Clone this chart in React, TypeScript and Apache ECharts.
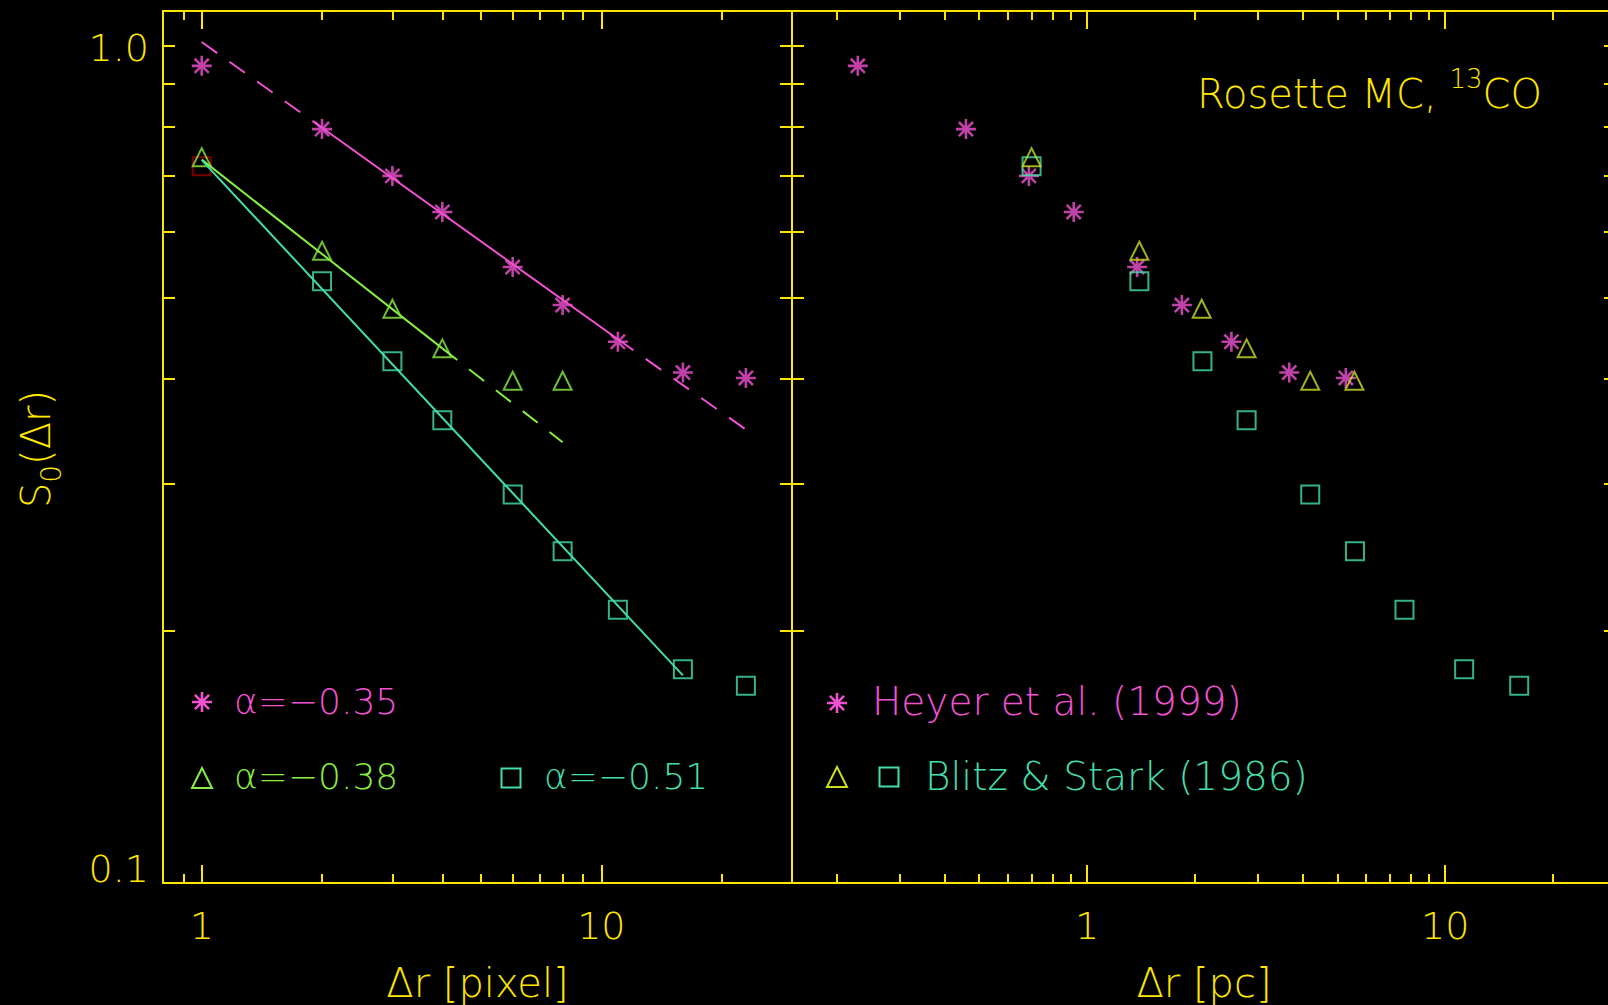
import React, { useEffect, useRef } from 'react';
import * as echarts from 'echarts';

// ---------- data ----------
const lagPx = [1, 2, 3, 4, 6, 8, 11, 16, 23];
const lagPxTri = [1, 2, 3, 4, 6, 8];
const heyerS = [0.946, 0.795, 0.699, 0.633, 0.544, 0.49, 0.443, 0.407, 0.401];
const blitzTriS = [0.736, 0.569, 0.485, 0.435, 0.398, 0.398];
const blitzSqS = [0.718, 0.523, 0.42, 0.357, 0.291, 0.249, 0.212, 0.18, 0.172];
const heyerPc = [0.229, 0.459, 0.688, 0.918, 1.38, 1.84, 2.53, 3.67, 5.28];
const blitzTriPc = [0.7, 1.4, 2.09, 2.79, 4.2, 5.58];
const blitzSqPc = [0.7, 1.4, 2.1, 2.79, 4.2, 5.6, 7.7, 11.3, 16.1];

// fitted power laws (end points)
const fitHeyerSolid = [[2, 0.798], [11, 0.446]];
const fitHeyerDashA = [[1, 1.01], [2, 0.798]];
const fitHeyerDashB = [[11, 0.446], [23, 0.348]];
const fitTriSolid = [[1, 0.731], [4, 0.435]];
const fitTriDash = [[4, 0.435], [8, 0.336]];
const fitSqSolid = [[1, 0.73], [16, 0.177]];

// axis ticks / labels
const majorX = [1, 10];
const minorXLeft = [0.9, 2, 3, 4, 5, 6, 7, 8, 9, 20];
const minorXRight = [0.2, 0.3, 0.4, 0.5, 0.6, 0.7, 0.8, 0.9, 2, 3, 4, 5, 6, 7, 8, 9, 20];
const yTicks = [0.2, 0.3, 0.4, 0.5, 0.6, 0.7, 0.8, 0.9, 1.0];
const yLabels = [0.1, 1];

const legendLeft = ['α=−0.35', 'α=−0.38', 'α=−0.51'];
const legendRight = ['Heyer et al. (1999)', 'Blitz & Stark (1986)'];

// ---------- styles ----------
const YEL = '#ffe600';
const MAG = '#f052d2';
const GRN = '#88ee44';
const YGR = '#ccdd22';
const TEAL = '#44ddaa';
const DRED = '#990000';
const FONT = '"DejaVu Sans", "Liberation Sans", sans-serif';
const FW = 200;

const ASTERISK_D = 'M0,-10L0,10M-10,0L10,0M-7.07,-7.07L7.07,7.07M7.07,-7.07L-7.07,7.07';
try {
  echarts.graphic.registerShape('asterisk', echarts.graphic.extendPath(ASTERISK_D, {}));
} catch (e) {
  // already registered
}
const ASTERISK_SYMBOL =
  'path://M10,0L10,20M0,10L20,10M2.93,2.93L17.07,17.07M17.07,2.93L2.93,17.07';

const zip = (xs: number[], ys: number[]) => xs.map((x, i) => [x, ys[i]]);

function xAxesFor(gridIndex: number, min: number, max: number, minor: number[], name: string) {
  const base = {
    type: 'log',
    logBase: 10,
    gridIndex,
    min,
    max,
    splitLine: { show: false },
    minorTick: { show: false },
    minorSplitLine: { show: false },
    silent: true,
  };
  const line = { show: true, onZero: false, lineStyle: { color: YEL, width: 2 } };
  const noLine = { show: false, onZero: false };
  const tickMajor = { show: true, inside: true, length: 18, customValues: majorX, lineStyle: { color: YEL, width: 2 } };
  const tickMinor = { show: true, inside: true, length: 9, customValues: minor, lineStyle: { color: YEL, width: 2 } };
  return [
    {
      ...base,
      position: 'bottom',
      axisLine: line,
      axisTick: tickMajor,
      axisLabel: {
        show: true,
        customValues: majorX,
        margin: 24,
        color: YEL,
        fontSize: 38,
        fontFamily: FONT,
        fontWeight: FW,
        formatter: (v: number) => String(Math.round(v)),
      },
      name,
      nameLocation: 'middle',
      nameGap: 80,
      nameMoveOverlap: false,
      nameTextStyle: { color: YEL, fontSize: 40, fontFamily: FONT, fontWeight: FW },
    },
    { ...base, position: 'bottom', axisLine: noLine, axisTick: tickMinor, axisLabel: { show: false } },
    { ...base, position: 'top', axisLine: line, axisTick: tickMajor, axisLabel: { show: false } },
    { ...base, position: 'top', axisLine: noLine, axisTick: tickMinor, axisLabel: { show: false } },
  ];
}

function yAxesFor(gridIndex: number, withLabels: boolean) {
  const base = {
    type: 'log',
    logBase: 10,
    gridIndex,
    min: 0.1,
    max: 1.1,
    splitLine: { show: false },
    minorTick: { show: false },
    minorSplitLine: { show: false },
    silent: true,
    axisLine: { show: true, onZero: false, lineStyle: { color: YEL, width: 2 } },
    axisTick: { show: true, inside: true, length: 12, customValues: yTicks, lineStyle: { color: YEL, width: 2 } },
  };
  return [
    {
      ...base,
      position: 'left',
      axisLabel: withLabels
        ? {
            show: true,
            customValues: yLabels,
            margin: 14,
            formatter: (v: number) => (v < 0.5 ? '{lo|' + v.toFixed(1) + '}' : '{hi|' + v.toFixed(1) + '}'),
            rich: {
              lo: { color: YEL, fontSize: 38, fontFamily: FONT, fontWeight: FW, padding: [0, 0, 28, 0] },
              hi: { color: YEL, fontSize: 38, fontFamily: FONT, fontWeight: FW, padding: [4, 0, 0, 0] },
            },
          }
        : { show: false },
    },
    { ...base, position: 'right', axisLabel: { show: false } },
  ];
}

function lineSeries(name: string, data: number[][], color: string, dashed: boolean, xi: number, yi: number) {
  return {
    type: 'line',
    name,
    data,
    xAxisIndex: xi,
    yAxisIndex: yi,
    symbol: 'none',
    showSymbol: false,
    silent: true,
    z: 3,
    lineStyle: { color, width: 2, type: dashed ? [19, 15] : 'solid' },
  };
}

function scatterSeries(
  name: string,
  data: number[][],
  symbol: string,
  color: string,
  xi: number,
  yi: number,
  size: number,
  bw = 2
) {
  return {
    type: 'scatter',
    name,
    data,
    xAxisIndex: xi,
    yAxisIndex: yi,
    symbol,
    symbolSize: size,
    silent: true,
    z: 2,
    itemStyle: { color: 'transparent', borderColor: color, borderWidth: bw },
  };
}

function legendText(text: string, x: number, y: number, color: string, size = 36) {
  return {
    type: 'text',
    x,
    y,
    silent: true,
    style: {
      text,
      fill: color,
      fontSize: size,
      fontFamily: FONT,
      fontWeight: FW,
      align: 'left',
      verticalAlign: 'middle',
      textAlign: 'left',
      textVerticalAlign: 'middle',
    },
  };
}

const strokeStyle = (c: string, w = 2) => ({ stroke: c, fill: 'none', lineWidth: w });

export default function App() {
  const ref = useRef<HTMLDivElement>(null);

  useEffect(() => {
    if (!ref.current) return;
    const chart = echarts.init(ref.current, undefined, { renderer: 'svg' });

    const option = {
      animation: false,
      backgroundColor: '#000',
      grid: [
        { left: 163, top: 11, width: 629, height: 872, outerBoundsMode: 'none', containLabel: false },
        { left: 792, top: 11, width: 824, height: 872, outerBoundsMode: 'none', containLabel: false },
      ],
      xAxis: [
        ...xAxesFor(0, 0.8, 30, minorXLeft, 'Δr [pixel]'),
        ...xAxesFor(1, 0.15, 30, minorXRight, 'Δr [pc]'),
      ],
      yAxis: [...yAxesFor(0, true), ...yAxesFor(1, false)],
      series: [
        // left panel: fits
        lineSeries('fit −0.35', fitHeyerSolid, MAG, false, 0, 0),
        lineSeries('fit −0.35 ext a', fitHeyerDashA, MAG, true, 0, 0),
        lineSeries('fit −0.35 ext b', fitHeyerDashB, MAG, true, 0, 0),
        lineSeries('fit −0.38', fitTriSolid, GRN, false, 0, 0),
        lineSeries('fit −0.38 ext', fitTriDash, GRN, true, 0, 0),
        lineSeries('fit −0.51', fitSqSolid, TEAL, false, 0, 0),
        // left panel: data
        scatterSeries('Heyer (pixel)', zip(lagPx, heyerS), ASTERISK_SYMBOL, MAG, 0, 0, 20, 2.6),
        scatterSeries('Blitz sq lag 1 (pixel)', zip(lagPx, blitzSqS).slice(0, 1), 'rect', DRED, 0, 0, 18),
        scatterSeries('Blitz tri (pixel)', zip(lagPxTri, blitzTriS), 'triangle', GRN, 0, 0, 18),
        scatterSeries('Blitz sq (pixel)', zip(lagPx, blitzSqS).slice(1), 'rect', TEAL, 0, 0, 18),
        // right panel: data
        scatterSeries('Heyer (pc)', zip(heyerPc, heyerS), ASTERISK_SYMBOL, MAG, 4, 2, 20, 2.6),
        scatterSeries('Blitz sq (pc)', zip(blitzSqPc, blitzSqS), 'rect', TEAL, 4, 2, 18),
        scatterSeries('Blitz tri (pc)', zip(blitzTriPc, blitzTriS), 'triangle', YGR, 4, 2, 18),
      ],
      graphic: [
        // y-axis title
        {
          type: 'text',
          x: 36,
          y: 449,
          rotation: Math.PI / 2,
          silent: true,
          style: {
            text: '{a|S}{b|0}{a|(Δr)}',
            rich: {
              a: { fontSize: 40, fontFamily: FONT, fontWeight: FW, fill: YEL },
              b: { fontSize: 28, fontFamily: FONT, fontWeight: FW, fill: YEL, padding: [31, 0, 0, 0] },
            },
            align: 'center',
            verticalAlign: 'middle',
            textAlign: 'center',
            textVerticalAlign: 'middle',
          },
        },
        // right panel title
        {
          type: 'text',
          x: 1197,
          y: 94,
          silent: true,
          style: {
            text: '{m|Rosette MC, }{s|13}{m|CO}',
            rich: {
              m: { fontSize: 40, fontFamily: FONT, fontWeight: FW, fill: YEL },
              s: { fontSize: 26, fontFamily: FONT, fontWeight: FW, fill: YEL, padding: [0, 0, 30, 0] },
            },
            align: 'left',
            verticalAlign: 'middle',
            textAlign: 'left',
            textVerticalAlign: 'middle',
          },
        },
        // left legend
        { type: 'asterisk', x: 202, y: 702, silent: true, style: strokeStyle(MAG, 2.6) },
        legendText(legendLeft[0], 234, 701, MAG),
        {
          type: 'polygon',
          x: 202,
          y: 778,
          silent: true,
          shape: { points: [[-10, 10], [0, -10], [10, 10]] },
          style: strokeStyle(GRN),
        },
        legendText(legendLeft[1], 234, 776, GRN),
        {
          type: 'rect',
          x: 511,
          y: 778,
          silent: true,
          shape: { x: -9.5, y: -9.5, width: 19, height: 19 },
          style: strokeStyle(TEAL),
        },
        legendText(legendLeft[2], 544, 776, TEAL),
        // right legend
        { type: 'asterisk', x: 837, y: 703, silent: true, style: strokeStyle(MAG, 2.6) },
        legendText(legendRight[0], 872, 701, MAG, 39),
        {
          type: 'polygon',
          x: 837,
          y: 777,
          silent: true,
          shape: { points: [[-10, 10], [0, -10], [10, 10]] },
          style: strokeStyle(YGR),
        },
        {
          type: 'rect',
          x: 889,
          y: 777,
          silent: true,
          shape: { x: -9.5, y: -9.5, width: 19, height: 19 },
          style: strokeStyle(TEAL),
        },
        legendText(legendRight[1], 925, 776, TEAL, 39),
      ],
    };

    chart.setOption(option as any);
    return () => chart.dispose();
  }, []);

  return (
    <div
      ref={ref}
      style={{ position: 'absolute', left: 0, top: 0, width: 1608, height: 1005, background: '#000' }}
    />
  );
}
